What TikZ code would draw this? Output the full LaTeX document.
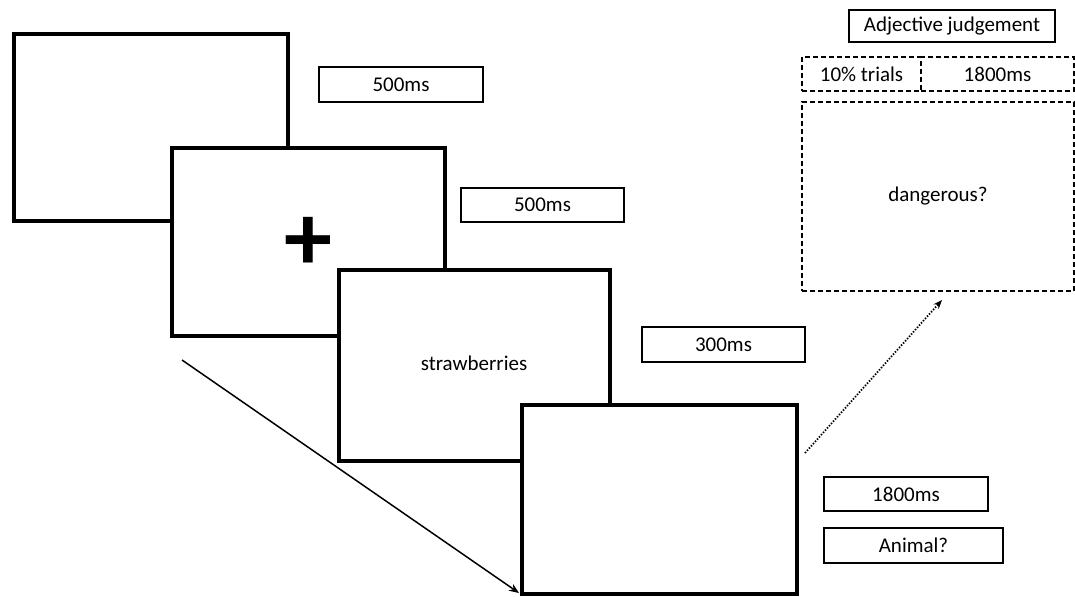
\documentclass[tikz,border=0pt]{standalone}
\usepackage{fontspec}
\setmainfont{Carlito}
\usetikzlibrary{arrows.meta}
\begin{document}
\begin{tikzpicture}[x=0.5pt,y=-0.5pt,
  screen/.style={draw,fill=white,line width=2pt,inner sep=0pt},
  lab/.style={draw,line width=0.7pt,inner sep=0pt,font=\fontsize{10.5}{12}\selectfont},
  dlab/.style={draw,dashed,dash pattern=on 2.5pt off 1.5pt,line width=0.6pt,inner sep=0pt,font=\fontsize{10.5}{12}\selectfont}]
\useasboundingbox (0,0) rectangle (1075,596);
% screens
\node[screen,minimum width=137pt,minimum height=93.5pt] (s1) at (151,127.5) {};
\node[screen,minimum width=136.5pt,minimum height=94pt] (s2) at (308.5,242) {};
\node[font=\fontsize{48}{48}\selectfont\bfseries] (fix) at (308.5,243.5) {+};
\node[screen,minimum width=135.5pt,minimum height=95.5pt,font=\fontsize{10.5}{12}\selectfont] (s3) at (474.5,365.5) {};
\node[font=\fontsize{10.5}{12}\selectfont] (word) at (474,363) {strawberries};
\node[screen,minimum width=137.5pt,minimum height=94.5pt] (s4) at (659.5,499.5) {};
% timing labels
\node[lab,minimum width=82pt,minimum height=17.5pt] (t1) at (401,84.5) {500ms};
\node[lab,minimum width=81.5pt,minimum height=17pt] (t2) at (542.5,205) {500ms};
\node[lab,minimum width=81.5pt,minimum height=17.5pt] (t3) at (723.5,344.5) {300ms};
\node[lab,minimum width=82pt,minimum height=17pt] (t4) at (906,494) {1800ms};
\node[lab,minimum width=89.5pt,minimum height=17.5pt] (q) at (913.5,545.5) {Animal?};
% adjective judgement
\node[lab,minimum width=103pt,minimum height=16pt] (adj) at (952,26) {Adjective judgement};
\node[dlab,minimum width=59.5pt,minimum height=17pt] (pct) at (861.5,74) {10\% trials};
\node[dlab,minimum width=76.5pt,minimum height=17pt] (t5) at (997.5,74) {1800ms};
\node[dlab,minimum width=136pt,minimum height=94.5pt,font=\fontsize{10.5}{12}\selectfont] (dg) at (938,196.5) {dangerous?};
% arrows
\coordinate (a1) at (182,360);
\coordinate (a2) at (519,593);
\draw[line width=0.75pt,-{Stealth[length=5pt,width=4pt]}] (a1) -- (a2);
\coordinate (b1) at (805,453);
\coordinate (b2) at (942,300);
\draw[line width=0.9pt,dash pattern=on 0.7pt off 0.8pt,-{Stealth[length=4.5pt,width=3.5pt]}] (b1) -- (b2);
\end{tikzpicture}
\end{document}
